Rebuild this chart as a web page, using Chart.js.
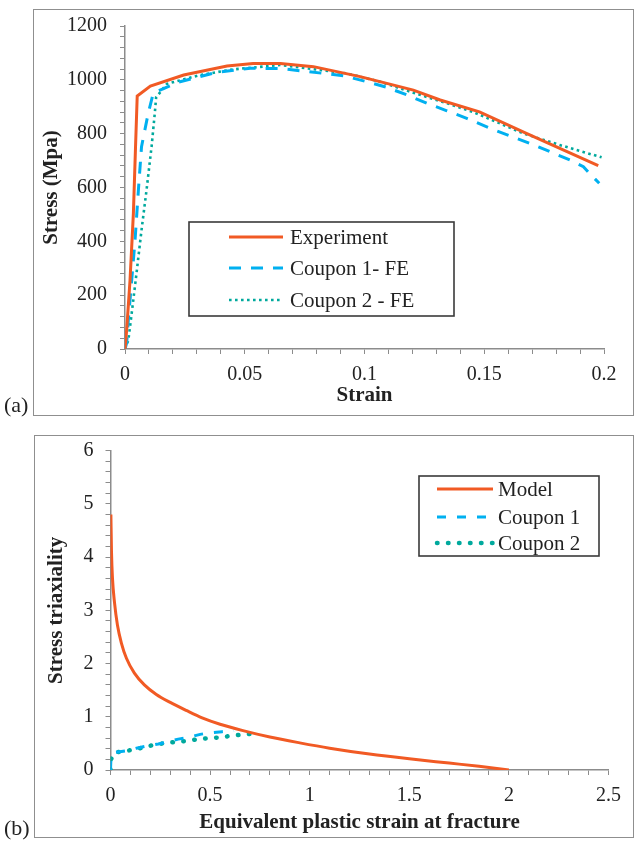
<!DOCTYPE html>
<html><head><meta charset="utf-8">
<script src="https://cdn.jsdelivr.net/npm/chart.js@4/dist/chart.umd.min.js"></script>
<style>
html,body{margin:0;padding:0;background:#fff;}
body{width:635px;height:842px;position:relative;overflow:hidden;font-family:"Liberation Serif","Times New Roman",serif;}
.frame{position:absolute;border:1.5px solid #8f8f8f;box-sizing:border-box;}
.wrap{position:absolute;left:0;width:635px;}
.tag{position:absolute;font-size:22px;color:#222;line-height:26px;}
</style></head>
<body>
<div class="frame" style="left:33px;top:9px;width:601px;height:407px"></div>
<div class="frame" style="left:34px;top:435px;width:600px;height:403px"></div>
<div class="wrap" style="top:0;height:420px"><canvas id="c1"></canvas></div>
<div class="wrap" style="top:420px;height:422px"><canvas id="c2"></canvas></div>
<div class="tag" style="left:4px;top:392px">(a)</div>
<div class="tag" style="left:4px;top:815px">(b)</div>
<script>
// ---------- Chart (a): stress-strain ----------
const expStrain = [0, 0.0007, 0.0021, 0.0035, 0.0044, 0.0051, 0.0106, 0.0245, 0.0426, 0.0535, 0.0649, 0.0787, 0.0982, 0.1204, 0.1316, 0.148, 0.1676, 0.1976];
const expStress = [0, 71, 256, 504, 752, 940, 977, 1018, 1051, 1061, 1061, 1049, 1012, 962, 925, 881, 801, 681];

const c1Strain = [0, 0.0007, 0.0014, 0.0028, 0.0042, 0.0056, 0.0069, 0.0097, 0.0118, 0.0217, 0.0384, 0.0523, 0.0648, 0.0829, 0.0919, 0.101, 0.1093, 0.1177, 0.126, 0.1344, 0.1427, 0.1524, 0.169, 0.1775, 0.1858, 0.1914, 0.1942, 0.198];
const c1Stress = [0, 22, 108, 256, 405, 591, 752, 876, 950, 990, 1028, 1043, 1042, 1024, 1014, 993, 972, 944, 913, 885, 857, 820, 764, 733, 702, 677, 650, 616];

const c2Strain = [0, 0.0014, 0.0028, 0.0048, 0.0069, 0.009, 0.0111, 0.0125, 0.013, 0.0175, 0.0314, 0.0453, 0.0648, 0.0926, 0.1065, 0.1204, 0.1344, 0.1455, 0.1663, 0.1815, 0.199];
const c2Stress = [0, 33, 133, 281, 442, 591, 752, 882, 935, 985, 1018, 1039, 1055, 1024, 993, 952, 913, 880, 801, 758, 712];

const aXTicks = [0, 0.05, 0.1, 0.15, 0.2];
const aYTicks = [0, 200, 400, 600, 800, 1000, 1200];
const aSeries = ['Experiment', 'Coupon 1- FE', 'Coupon 2 - FE'];

// ---------- Chart (b): triaxiality vs fracture strain ----------
const modelStrain = [0.002, 0.005, 0.01, 0.02, 0.035, 0.055, 0.08, 0.12, 0.17, 0.23, 0.3, 0.38, 0.46, 0.55, 0.665, 0.8, 0.95, 1.1, 1.3, 1.5, 1.7, 1.85, 2.0];
const modelTriax = [4.8, 4.1, 3.6, 3.15, 2.72, 2.38, 2.1, 1.82, 1.6, 1.42, 1.27, 1.12, 0.98, 0.86, 0.74, 0.62, 0.51, 0.41, 0.30, 0.21, 0.13, 0.07, 0];

const b1Strain = [0, 0.002, 0.02, 0.08, 0.13, 0.18, 0.24, 0.29, 0.34, 0.39, 0.45, 0.5, 0.56, 0.62];
const b1Triax = [0, 0.2, 0.33, 0.36, 0.41, 0.45, 0.49, 0.53, 0.58, 0.61, 0.67, 0.70, 0.72, 0.74];

const b2Strain = [0, 0.002, 0.023, 0.08, 0.13, 0.18, 0.23, 0.28, 0.335, 0.39, 0.44, 0.5, 0.55, 0.6, 0.65, 0.71];
const b2Triax = [0, 0.2, 0.33, 0.36, 0.39, 0.44, 0.48, 0.51, 0.53, 0.55, 0.58, 0.6, 0.61, 0.64, 0.66, 0.68];

const bXTicks = [0, 0.5, 1, 1.5, 2, 2.5];
const bYTicks = [0, 1, 2, 3, 4, 5, 6];
const bSeries = ['Model', 'Coupon 1', 'Coupon 2'];

// ---------- helpers ----------
const pts = (xs, ys) => xs.map((x, i) => ({x, y: ys[i]}));
const labelIf = (list) => (v) => {
  const hit = list.find(t => Math.abs(t - v) < 1e-9);
  return hit === undefined ? '' : String(hit);
};
const SERIF = "'Liberation Serif','Times New Roman',serif";
const ORANGE = '#F15A24', BLUE = '#00B0F0', TEAL = '#00A99D', AXIS = '#8c8c8c', TXT = '#222';

const boxLegend = {
  id: 'boxLegend',
  afterDatasetsDraw(chart, args, o) {
    const ctx = chart.ctx;
    ctx.save();
    ctx.fillStyle = '#fff';
    ctx.fillRect(o.x, o.y, o.w, o.h);
    ctx.strokeStyle = '#3a3a3a';
    ctx.lineWidth = 1.6;
    ctx.strokeRect(o.x, o.y, o.w, o.h);
    ctx.font = o.font;
    ctx.fillStyle = TXT;
    ctx.textBaseline = 'middle';
    chart.data.datasets.forEach((ds, i) => {
      const y = o.y + o.rows[i];
      ctx.save();
      ctx.strokeStyle = ds.borderColor;
      ctx.lineWidth = ds.borderWidth;
      ctx.setLineDash(ds.borderDash || []);
      ctx.lineCap = ds.borderCapStyle || 'butt';
      ctx.beginPath();
      ctx.moveTo(o.x + o.l0, y);
      ctx.lineTo(o.x + o.l1, y);
      ctx.stroke();
      ctx.restore();
      ctx.fillText(ds.label, o.x + o.tx, y + 1);
    });
    ctx.restore();
  }
};

function axis(opts) {
  return {
    type: 'linear',
    min: opts.min, max: opts.max,
    afterFit: opts.afterFit,
    grid: {drawOnChartArea: false, drawTicks: true, tickLength: 5, color: AXIS, lineWidth: 1},
    border: {display: true, color: AXIS, width: 1.5},
    ticks: {
      stepSize: opts.step, autoSkip: false, maxRotation: 0, minRotation: 0,
      padding: opts.pad, color: TXT, font: {family: SERIF, size: 20},
      callback: labelIf(opts.labels)
    },
    title: {display: true, text: opts.title, color: TXT,
      font: {family: SERIF, size: opts.tsize, weight: 'bold'}, padding: opts.tpad}
  };
}

Chart.defaults.animation = false;

new Chart(document.getElementById('c1'), {
  type: 'line',
  data: {datasets: [
    {label: aSeries[0], data: pts(expStrain, expStress), borderColor: ORANGE, borderWidth: 3, pointRadius: 0, tension: 0},
    {label: aSeries[1], data: pts(c1Strain, c1Stress), borderColor: BLUE, borderWidth: 3, borderDash: [12, 10], pointRadius: 0, tension: 0},
    {label: aSeries[2], data: pts(c2Strain, c2Stress), borderColor: TEAL, borderWidth: 2.6, borderDash: [2.6, 3.4], pointRadius: 0, tension: 0}
  ]},
  options: {
    responsive: true, maintainAspectRatio: false, devicePixelRatio: 1,
    layout: {padding: {left: 0, top: 26, right: 31, bottom: 0}},
    plugins: {legend: {display: false}, tooltip: {enabled: false},
      boxLegend: {x: 189, y: 222, w: 265, h: 94, rows: [15, 46, 78], l0: 40, l1: 94, tx: 101, font: "21px " + SERIF}},
    scales: {
      x: axis({min: 0, max: 0.2, step: 0.01, labels: aXTicks, pad: 9, title: 'Strain', tsize: 21,
        tpad: {top: 0, bottom: 11.4}, afterFit: s => { s.height = 71; }}),
      y: axis({min: 0, max: 1200, step: 40, labels: aYTicks, pad: 13, title: 'Stress (Mpa)', tsize: 21,
        tpad: {top: 39.4, bottom: 0}, afterFit: s => { s.width = 125; }})
    }
  },
  plugins: [boxLegend]
});

new Chart(document.getElementById('c2'), {
  type: 'line',
  data: {datasets: [
    {label: bSeries[0], data: pts(modelStrain, modelTriax), borderColor: ORANGE, borderWidth: 3, pointRadius: 0, cubicInterpolationMode: 'monotone'},
    {label: bSeries[1], data: pts(b1Strain, b1Triax), borderColor: BLUE, borderWidth: 3, borderDash: [9, 11], pointRadius: 0, tension: 0},
    {label: bSeries[2], data: pts(b2Strain, b2Triax), borderColor: TEAL, borderWidth: 4.5, borderDash: [0.5, 10.5], borderCapStyle: 'round', pointRadius: 0, tension: 0}
  ]},
  options: {
    responsive: true, maintainAspectRatio: false, devicePixelRatio: 1,
    layout: {padding: {left: 0, top: 30.7, right: 26.5, bottom: 0}},
    plugins: {legend: {display: false}, tooltip: {enabled: false},
      boxLegend: {x: 419, y: 56, w: 180, h: 80, rows: [13, 41, 67], l0: 18, l1: 74, tx: 79, font: "21px " + SERIF}},
    scales: {
      x: axis({min: 0, max: 2.5, step: 0.1, labels: bXTicks, pad: 9, title: 'Equivalent plastic strain at fracture', tsize: 21,
        tpad: {top: 0, bottom: 6.4}, afterFit: s => { s.height = 72; }}),
      y: axis({min: 0, max: 6, step: 0.2, labels: bYTicks, pad: 12, title: 'Stress triaxiality', tsize: 21,
        tpad: {top: 44.4, bottom: 0}, afterFit: s => { s.width = 110.5; }})
    }
  },
  plugins: [boxLegend]
});
</script>
</body></html>
